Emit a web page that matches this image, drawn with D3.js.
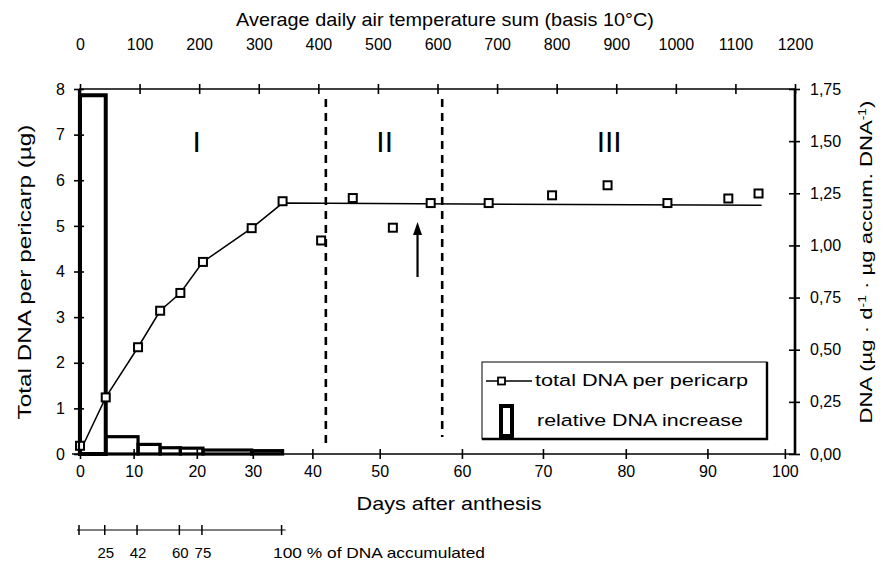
<!DOCTYPE html>
<html>
<head>
<meta charset="utf-8">
<script src="https://cdn.jsdelivr.net/npm/d3@7"></script>
<style>
  body { margin: 0; background: #fff; }
  svg { font-family: "Liberation Sans", Arial, sans-serif; }
</style>
</head>
<body>
<svg id="canvas" width="885" height="561"></svg>
<script>
// bottom axis: days, placed by their temperature sum (top axis)
var dayTicks = [0, 10, 20, 30, 40, 50, 60, 70, 80, 90, 100];
var tempSumAtDay = [0, 90, 196, 290, 390, 503, 641, 777, 916, 1053, 1183];
var tempTicks = [0, 100, 200, 300, 400, 500, 600, 700, 800, 900, 1000, 1100, 1200];
var leftTicks = [0, 1, 2, 3, 4, 5, 6, 7, 8];
var rightTicks = [0, 0.25, 0.5, 0.75, 1, 1.25, 1.5, 1.75];

// total DNA per pericarp (µg)
var sampleDays = [0, 4.8, 10.7, 14.2, 17.4, 21.1, 29.8, 35, 41.3, 46, 51.6, 56.2, 63.3, 71.1, 77.8, 85.1, 92.7, 96.6];
var totalDNA = [0.18, 1.24, 2.34, 3.14, 3.53, 4.21, 4.95, 5.54, 4.68, 5.61, 4.96, 5.5, 5.5, 5.67, 5.89, 5.5, 5.6, 5.71];

// fitted curve
var trendDays = [0, 4.8, 10.7, 14.2, 17.4, 21.1, 29.8, 35, 97];
var trendDNA = [0.05, 1.24, 2.34, 3.14, 3.53, 4.21, 4.95, 5.5, 5.45];

// relative DNA increase (µg · d-1 · µg accum. DNA-1)
var barStart = [0, 4.8, 10.7, 14.2, 17.4, 21.1, 29.8];
var barEnd = [4.8, 10.7, 14.2, 17.4, 21.1, 29.8, 35];
var relIncrease = [1.72, 0.083, 0.046, 0.03, 0.028, 0.019, 0.016];

// % of DNA accumulated
var accumDays = [0, 4.8, 10.7, 17.4, 21.1, 35];
var accumLabels = ['', '25', '42', '60', '75', '100'];

// phases
var phaseBounds = [42, 57.6];
var phaseNames = ['I', 'II', 'III'];
var phaseNameDays = [20, 50.6, 78];
var arrowDay = 54.6;

var plotLeft = 79;
var plotRight = 795;
var plotTop = 89;
var plotBottom = 454;

var xTemp;
var xDay;
var yLeft;
var yRight;

function crossTicks(g, a, b, attr) {
  g.selectAll('.tick line')
    .attr(attr + '1', a)
    .attr(attr + '2', b)
    .style('stroke', '#000')
    .style('stroke-width', 1.6);
  g.select('.domain').remove();
  g.selectAll('text').style('font-size', '16px').style('fill', '#000');
}

// the scan is stretched: fit a text to the length it has in the picture
function stretch(t, cx, cy, rot, len) {
  t.attr('text-anchor', 'middle');
  var w = t.node().getBBox().width;
  t.attr('transform', 'translate(' + cx + ',' + cy + ') rotate(' + rot + ') scale(' + len / w + ',1)');
}

function hline(g, x1, x2, y, sw) {
  g.append('line')
    .attr('x1', x1)
    .attr('x2', x2)
    .attr('y1', y)
    .attr('y2', y)
    .style('stroke', '#000')
    .style('stroke-width', sw);
}

function vline(g, x, y1, y2, sw) {
  g.append('line')
    .attr('x1', x)
    .attr('x2', x)
    .attr('y1', y1)
    .attr('y2', y2)
    .style('stroke', '#000')
    .style('stroke-width', sw);
}

function initChart() {
  var svg = d3.select('#canvas');
  var chart = svg.append('g');

  xTemp = d3.scaleLinear().domain([0, 1200]).range([80, plotRight]);
  xDay = d3
    .scaleLinear()
    .domain(dayTicks)
    .range(tempSumAtDay.map(d => xTemp(d)));
  yLeft = d3.scaleLinear().domain([0, 8]).range([plotBottom, plotTop]);
  yRight = d3.scaleLinear().domain([0, 1.75]).range([plotBottom, plotTop]);

  var comma = d3.formatLocale({decimal: ',', thousands: '.', grouping: [3], currency: ['', '']}).format('.2f');

  // bars
  var bars = barStart.map((d, i) => ({s: d, e: barEnd[i], v: relIncrease[i]}));
  chart
    .selectAll('.bar')
    .data(bars)
    .enter()
    .append('rect')
    .attr('class', 'bar')
    .attr('x', d => xDay(d.s))
    .attr('y', d => yRight(d.v))
    .attr('width', d => xDay(d.e) - xDay(d.s))
    .attr('height', d => yRight(0) - yRight(d.v))
    .style('fill', 'none')
    .style('stroke', '#000')
    .style('stroke-width', (d, i) => (i === 0 ? 4 : 3.2));

  // phase dividers
  chart
    .selectAll('.phase')
    .data(phaseBounds)
    .enter()
    .append('line')
    .attr('x1', d => xDay(d))
    .attr('x2', d => xDay(d))
    .attr('y1', 99)
    .attr('y2', (d, i) => (i === 0 ? 443 : 437))
    .style('stroke', '#000')
    .style('stroke-width', 2.6)
    .style('stroke-dasharray', '8,6');

  chart
    .selectAll('.phase-name')
    .data(phaseNames)
    .enter()
    .append('text')
    .attr('x', (d, i) => xDay(phaseNameDays[i]))
    .attr('y', 152)
    .attr('text-anchor', 'middle')
    .style('font-size', '30px')
    .text(d => d);

  // arrow
  var ax = xDay(arrowDay);
  vline(chart, ax, 277, 232, 2.2);
  chart
    .append('path')
    .attr('d', 'M' + ax + ',222L' + (ax - 4.5) + ',235L' + (ax + 4.5) + ',235Z')
    .style('fill', '#000');

  // trend line
  var line = d3
    .line()
    .x(d => xDay(d[0]))
    .y(d => yLeft(d[1]));
  chart
    .append('path')
    .datum(trendDays.map((d, i) => [d, trendDNA[i]]))
    .attr('d', line)
    .style('fill', 'none')
    .style('stroke', '#000')
    .style('stroke-width', 1.5);

  chart
    .selectAll('.pt')
    .data(sampleDays.map((d, i) => [d, totalDNA[i]]))
    .enter()
    .append('rect')
    .attr('class', 'pt')
    .attr('x', d => xDay(d[0]) - 4)
    .attr('y', d => yLeft(d[1]) - 4)
    .attr('width', 8)
    .attr('height', 8)
    .style('fill', '#fff')
    .style('stroke', '#000')
    .style('stroke-width', 2);

  // axes
  var xAxis = chart
    .append('g')
    .attr('transform', 'translate(0,' + plotBottom + ')')
    .call(d3.axisBottom(xDay).tickValues(dayTicks).tickSize(4).tickPadding(8));
  crossTicks(xAxis, -5, 5, 'y');
  hline(chart, 72, plotRight, plotBottom, 1.6);

  var topAxis = chart
    .append('g')
    .attr('transform', 'translate(0,' + plotTop + ')')
    .call(d3.axisTop(xTemp).tickValues(tempTicks).tickFormat(d3.format('d')).tickSize(4).tickPadding(35));
  crossTicks(topAxis, -5, 5, 'y');
  hline(chart, plotLeft, plotRight, plotTop, 1.6);

  var yAxis = chart
    .append('g')
    .attr('transform', 'translate(' + plotLeft + ',0)')
    .call(d3.axisLeft(yLeft).tickValues(leftTicks).tickSize(5).tickPadding(9));
  crossTicks(yAxis, -5, 5, 'x');
  vline(chart, plotLeft, plotTop, plotBottom, 2.2);

  var y2Axis = chart
    .append('g')
    .attr('transform', 'translate(' + plotRight + ',0)')
    .call(d3.axisRight(yRight).tickValues(rightTicks).tickFormat(comma).tickSize(5).tickPadding(10));
  crossTicks(y2Axis, -6, 5, 'x');
  vline(chart, plotRight, plotTop, plotBottom + 1, 2.6);

  // titles
  var t1 = chart
    .append('text')
    .attr('dy', '0.35em')
    .style('font-size', '18px')
    .text('Average daily air temperature sum (basis 10°C)');
  stretch(t1, 445, 20, 0, 418);

  var t2 = chart
    .append('text')
    .attr('dy', '0.35em')
    .style('font-size', '18px')
    .text('Days after anthesis');
  stretch(t2, 449, 504, 0, 185);

  var t3 = chart
    .append('text')
    .attr('dy', '0.35em')
    .style('font-size', '18px')
    .text('Total DNA per pericarp (µg)');
  stretch(t3, 25, 272, -90, 295);

  var t4 = chart
    .append('text')
    .attr('dy', '0.35em')
    .style('font-size', '16px');
  t4.append('tspan').text('DNA (µg · d');
  t4.append('tspan').attr('dy', -6).style('font-size', '10px').text('-1');
  t4.append('tspan').attr('dy', 6).text(' · µg accum. DNA');
  t4.append('tspan').attr('dy', -6).style('font-size', '10px').text('-1');
  t4.append('tspan').attr('dy', 6).text(')');
  stretch(t4, 866, 262, -90, 323);

  // % of DNA accumulated scale
  var acc = chart.append('g');
  hline(acc, xDay(accumDays[0]) - 3, xDay(accumDays[accumDays.length - 1]) + 3, 530, 1.2);
  acc
    .selectAll('.acc-tick')
    .data(accumDays)
    .enter()
    .append('line')
    .attr('x1', d => xDay(d) - 1)
    .attr('x2', d => xDay(d) - 1)
    .attr('y1', 525)
    .attr('y2', 535)
    .style('stroke', '#000')
    .style('stroke-width', 1.5);
  acc
    .selectAll('.acc-label')
    .data(accumLabels.slice(0, -1))
    .enter()
    .append('text')
    .attr('x', (d, i) => xDay(accumDays[i]))
    .attr('y', 558)
    .attr('text-anchor', 'middle')
    .style('font-size', '15px')
    .text(d => d);
  var last = acc
    .append('text')
    .attr('dy', '0.35em')
    .style('font-size', '14px')
    .text(accumLabels[accumLabels.length - 1] + ' % of DNA accumulated');
  stretch(last, 379, 553, 0, 212);

  // legend
  var lg = chart.append('g');
  lg.append('rect')
    .attr('x', 482)
    .attr('y', 362)
    .attr('width', 285)
    .attr('height', 77)
    .style('fill', '#fff')
    .style('stroke', '#000')
    .style('stroke-width', 1);
  lg.append('path')
    .attr('d', 'M767,362V439H482')
    .style('fill', 'none')
    .style('stroke', '#000')
    .style('stroke-width', 2.4);
  hline(lg, 486, 532, 381, 1.5);
  lg.append('rect')
    .attr('x', 498)
    .attr('y', 377.5)
    .attr('width', 7)
    .attr('height', 7)
    .style('fill', '#fff')
    .style('stroke', '#000')
    .style('stroke-width', 1.8);
  lg.append('rect')
    .attr('x', 501)
    .attr('y', 406)
    .attr('width', 11)
    .attr('height', 30)
    .style('fill', 'none')
    .style('stroke', '#000')
    .style('stroke-width', 4);
  var l1 = lg
    .append('text')
    .attr('dy', '0.35em')
    .style('font-size', '17px')
    .text('total DNA per pericarp');
  stretch(l1, 641.5, 380, 0, 213);
  var l2 = lg
    .append('text')
    .attr('dy', '0.35em')
    .style('font-size', '17px')
    .text('relative DNA increase');
  stretch(l2, 640, 420, 0, 206);
}

initChart();
</script>
</body>
</html>
